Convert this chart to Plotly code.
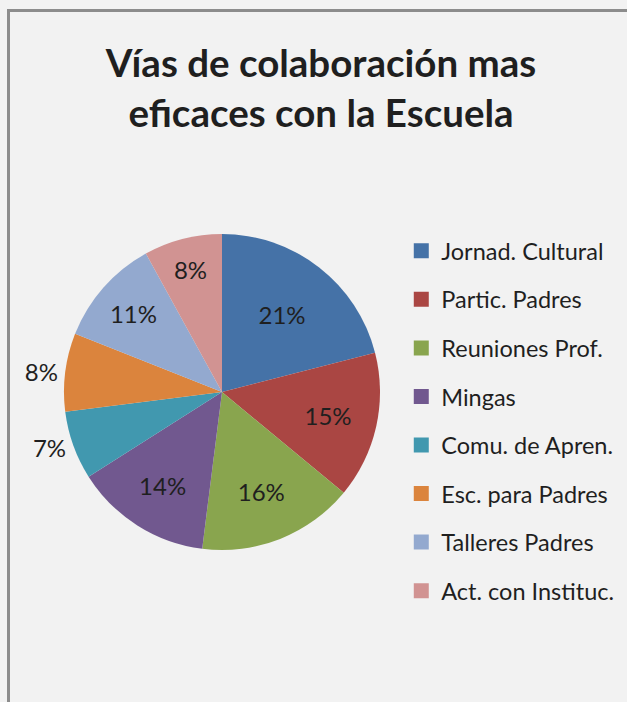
import plotly.graph_objects as go

categories = ["Jornad. Cultural", "Partic. Padres", "Reuniones Prof.", "Mingas",
              "Comu. de Apren.", "Esc. para Padres", "Talleres Padres", "Act. con Instituc."]
values = [21, 15, 16, 14, 7, 8, 11, 8]
colors = ["#4572A7", "#AA4643", "#89A54E", "#71588F", "#4198AF", "#DB843D", "#93A9CF", "#D19392"]
text_positions = ["inside", "inside", "inside", "inside", "outside", "outside", "inside", "inside"]

W, H = 627, 702
FONT = "Lato"
TXT = "#1f1f1f"

cx, cy, r = 222, 392, 158

fig = go.Figure()
fig.add_trace(go.Pie(
    labels=categories, values=values, sort=False, direction="clockwise", rotation=0,
    marker=dict(colors=colors, line=dict(color="rgba(255,255,255,0.0)", width=0)),
    texttemplate="%{value}%", textposition=text_positions,
    insidetextorientation="horizontal",
    textfont=dict(family=FONT, size=24, color=TXT),
    showlegend=False, hoverinfo="label+percent",
    domain=dict(x=[0.0, 2 * cx / W], y=[(H - cy - r) / H, (H - cy + r) / H]),
))

# legend entries (one group per category so spacing can be controlled)
for name, col in zip(categories, colors):
    fig.add_trace(go.Scatter(
        x=[None], y=[None], mode="markers", name=name, legendgroup=name,
        marker=dict(symbol="square", size=15, color=col),
    ))

fig.update_layout(
    width=W, height=H,
    margin=dict(l=0, r=0, t=0, b=0, autoexpand=False),
    paper_bgcolor="#f2f2f2", plot_bgcolor="#f2f2f2",
    font=dict(family=FONT, color=TXT),
    title=dict(text="<b>Vías de colaboración mas<br>eficaces con la Escuela</b>",
               x=0.512, xanchor="center", y=0.8905, yanchor="middle",
               font=dict(family=FONT, size=38.5, color=TXT)),
    xaxis=dict(visible=False), yaxis=dict(visible=False),
    legend=dict(x=0.640, xanchor="left", y=1 - 229 / H, yanchor="top",
                font=dict(family=FONT, size=23.5, color=TXT),
                tracegroupgap=15, bgcolor="rgba(0,0,0,0)"),
    shapes=[
        dict(type="line", xref="paper", yref="paper", x0=8.5 / W, x1=8.5 / W, y0=0, y1=1 - 9 / H,
             line=dict(color="#8c8c8c", width=3)),
        dict(type="line", xref="paper", yref="paper", x0=7 / W, x1=1, y0=1 - 10.5 / H, y1=1 - 10.5 / H,
             line=dict(color="#8c8c8c", width=3)),
    ],
)

fig.write_html("out.html", config={"displayModeBar": False},
               post_script="document.body.style.margin='0';")
